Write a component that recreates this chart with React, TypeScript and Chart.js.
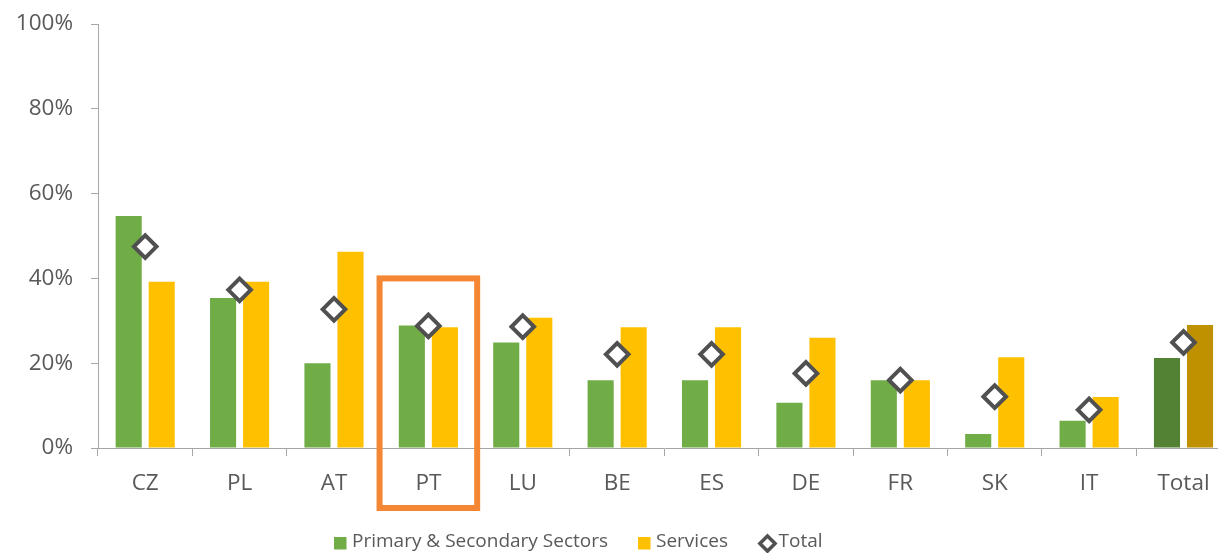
import React, { useEffect, useRef } from 'react';
import { Chart, registerables } from 'chart.js';

Chart.register(...registerables);

const categories = ['CZ', 'PL', 'AT', 'PT', 'LU', 'BE', 'ES', 'DE', 'FR', 'SK', 'IT', 'Total'];
const primarySecondary = [54.7, 35.4, 20.0, 28.9, 24.9, 16.0, 16.0, 10.7, 16.0, 3.3, 6.4, 21.2];
const services = [39.2, 39.2, 46.3, 28.5, 30.7, 28.5, 28.5, 26.0, 16.0, 21.4, 12.0, 29.0];
const total = [47.5, 37.3, 32.7, 28.8, 28.6, 22.1, 22.1, 17.6, 16.0, 12.1, 9.0, 24.9];
const yTickValues = [0, 20, 40, 60, 80, 100];
const seriesLabels = ['Primary & Secondary Sectors', 'Services', 'Total'];
const highlightedCategory = 'PT';
const highlightTopValue = 40;

const GREEN = '#70AD47';
const GREEN_DARK = '#548235';
const YELLOW = '#FFC000';
const YELLOW_DARK = '#BF9000';
const MARKER = '#505050';
const TEXT = '#595959';
const AXIS = '#a6a6a6';
const ORANGE = '#F48634';
const FONT = '"Open Sans", "Noto Sans", sans-serif';

const highlightPlugin = {
  id: 'highlightBox',
  afterDraw(chart: any) {
    const x = chart.scales.x;
    const y = chart.scales.y;
    const idx = categories.indexOf(highlightedCategory);
    if (idx < 0) return;
    const cat = (chart.chartArea.right - chart.chartArea.left) / categories.length;
    const cx = x.getPixelForValue(idx);
    const half = cat * 0.517;
    const top = y.getPixelForValue(highlightTopValue);
    const bottom = chart.chartArea.bottom + 60;
    const ctx = chart.ctx;
    ctx.save();
    ctx.strokeStyle = ORANGE;
    ctx.lineWidth = 6;
    ctx.lineJoin = 'miter';
    ctx.strokeRect(cx - half, top, half * 2, bottom - top);
    ctx.restore();
  },
};

const legendPlugin = {
  id: 'customLegend',
  afterDraw(chart: any) {
    const ctx = chart.ctx;
    const cy = 542;
    let x = 334;
    ctx.save();
    ctx.font = `19px ${FONT}`;
    ctx.textBaseline = 'middle';
    ctx.textAlign = 'left';
    seriesLabels.forEach((label, i) => {
      if (i < 2) {
        ctx.fillStyle = i === 0 ? GREEN : YELLOW;
        ctx.fillRect(x, cy - 5, 12.5, 12.5);
        x += 12.5 + 5.5;
      } else {
        const r = 7.6;
        const dcx = x + 9.5;
        const dcy = cy + 1.5;
        ctx.beginPath();
        ctx.moveTo(dcx, dcy - r);
        ctx.lineTo(dcx + r, dcy);
        ctx.lineTo(dcx, dcy + r);
        ctx.lineTo(dcx - r, dcy);
        ctx.closePath();
        ctx.fillStyle = '#ffffff';
        ctx.fill();
        ctx.lineWidth = 3.5;
        ctx.strokeStyle = MARKER;
        ctx.stroke();
        x += 20.5;
      }
      ctx.fillStyle = TEXT;
      ctx.fillText(label, x, cy);
      x += ctx.measureText(label).width + 30;
    });
    ctx.restore();
  },
};

export default function App() {
  const ref = useRef<HTMLCanvasElement>(null);

  useEffect(() => {
    document.body.style.margin = '0';
    document.body.style.overflow = 'hidden';
    const canvas = ref.current;
    if (!canvas) return;
    Chart.defaults.font.family = FONT;
    const chart = new Chart(canvas, {
      type: 'bar',
      data: {
        labels: categories,
        datasets: [
          {
            type: 'bar',
            label: seriesLabels[0],
            data: primarySecondary,
            backgroundColor: categories.map((c) => (c === 'Total' ? GREEN_DARK : GREEN)),
            categoryPercentage: 0.7,
            barPercentage: 0.79,
            order: 2,
          },
          {
            type: 'bar',
            label: seriesLabels[1],
            data: services,
            backgroundColor: categories.map((c) => (c === 'Total' ? YELLOW_DARK : YELLOW)),
            categoryPercentage: 0.7,
            barPercentage: 0.79,
            order: 2,
          },
          {
            type: 'line',
            label: seriesLabels[2],
            data: total,
            showLine: false,
            pointStyle: 'rectRot',
            pointRadius: 11.3,
            pointHoverRadius: 11.3,
            pointBorderWidth: 4,
            pointBorderColor: MARKER,
            pointBackgroundColor: '#ffffff',
            borderColor: MARKER,
            backgroundColor: '#ffffff',
            order: 0,
          } as any,
        ],
      },
      options: {
        responsive: false,
        animation: false,
        devicePixelRatio: 1,
        layout: { padding: { left: 8, right: 8, top: 24, bottom: 55 } },
        plugins: {
          legend: { display: false },
          tooltip: { enabled: false },
        },
        scales: {
          x: {
            grid: { offset: true, drawOnChartArea: false, tickLength: 8, color: AXIS },
            border: { color: AXIS },
            ticks: { color: TEXT, font: { size: 22.5 }, padding: 14, maxRotation: 0, autoSkip: false },
            afterFit: (s: any) => {
              s.height = 50;
              s.paddingLeft = 0;
              s.paddingRight = 0;
            },
          },
          y: {
            min: 0,
            max: 100,
            afterBuildTicks: (s: any) => {
              s.ticks = yTickValues.map((v) => ({ value: v }));
            },
            grid: { drawOnChartArea: false, tickLength: 7, color: AXIS },
            border: { color: AXIS },
            ticks: {
              color: TEXT,
              font: { size: 22.5 },
              padding: 18,
              callback: (v: any) => `${v}%`,
            },
            afterFit: (s: any) => {
              s.width = 90;
              s.paddingTop = 0;
              s.paddingBottom = 0;
            },
          },
        },
      },
      plugins: [highlightPlugin, legendPlugin],
    });
    return () => chart.destroy();
  }, []);

  return (
    <div style={{ width: 1218, height: 553, overflow: 'hidden', position: 'relative' }}>
      <canvas ref={ref} width={1246} height={553} style={{ display: 'block' }} />
    </div>
  );
}
